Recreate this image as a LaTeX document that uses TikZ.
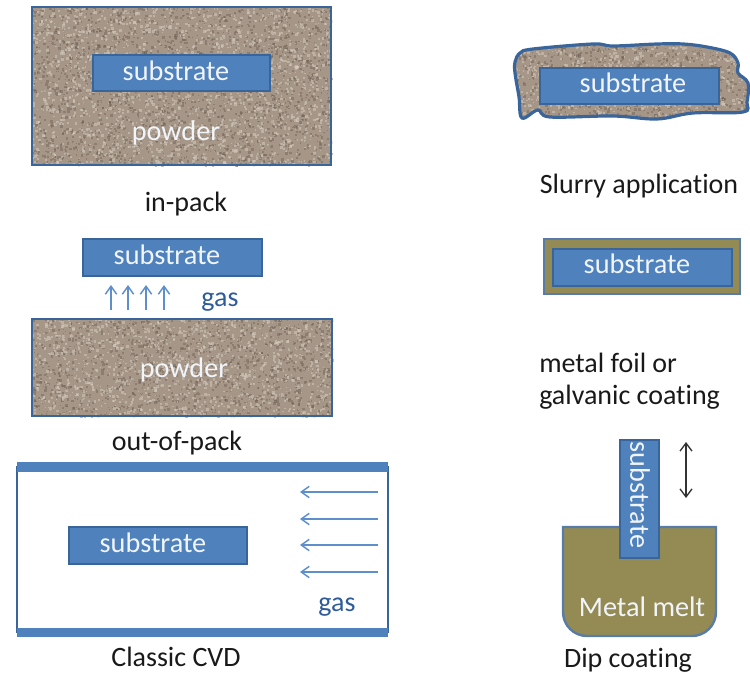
\documentclass[tikz,border=0pt]{standalone}
\usepackage{fontspec}
\setmainfont[Ligatures=NoCommon]{Carlito}
\usetikzlibrary{arrows.meta}
\definecolor{subfill}{HTML}{4F81BD}
\definecolor{subline}{HTML}{3A659B}
\definecolor{meltfill}{HTML}{948A54}
\definecolor{gastext}{HTML}{2F5C98}
\definecolor{gasline}{HTML}{5F8FCB}
\definecolor{powderbase}{HTML}{A59688}
\definecolor{powderdark}{HTML}{6A5C50}
\definecolor{powderlight}{HTML}{D6CCC0}
\tikzset{
	subbox/.style={draw=subline, line width=1.8pt, fill=subfill},
	whitetxt/.style={text=white!92!subfill, font=\fontsize{21.2}{25}\selectfont, inner sep=0pt},
	captxt/.style={text=black!90, font=\fontsize{21}{25}\selectfont, inner sep=0pt},
	gastxt/.style={text=gastext, font=\fontsize{21}{25}\selectfont, inner sep=0pt},
	gasarrow/.style={draw=gasline, line width=1.1pt, -{Straight Barb[length=6pt,width=8.5pt]}},
	powderedge/.style={draw=subline, line width=2.2pt},
}
% speckled powder between two corners, #5 specks of each colour
\def\powderspecks(#1,#2)(#3,#4)(#5){
	\foreach \k in {1,...,#5}{
		\pgfmathsetmacro\px{#1+rnd*(#3-#1)}
		\pgfmathsetmacro\py{#2+rnd*(#4-#2)}
		\pgfmathsetmacro\pr{1+rnd*1.8}
		\fill (\px,\py) rectangle ++(\pr,\pr);
	}
}
\def\powderfill(#1,#2)(#3,#4)(#5){
	\fill[powderbase] (#1,#2) rectangle (#3,#4);
	\begin{scope}[fill=powderdark, fill opacity=0.42]
		\powderspecks(#1,#2)(#3,#4)(#5)
	\end{scope}
	\begin{scope}[fill=powderlight, fill opacity=0.52]
		\powderspecks(#1,#2)(#3,#4)(#5)
	\end{scope}
}
\begin{document}
\begin{tikzpicture}[x=0.75pt, y=-0.75pt]
		%%%%% START %%%%%
		\useasboundingbox (0, 0) rectangle (750, 681);
		\pgfmathsetseed{4711}
		
		% in-pack
		\powderfill(32, 7)(331, 165)(2000)
		\draw[powderedge] (32, 7) rectangle (331, 165);
		\draw[subbox] (93, 55) rectangle (270, 91);
		\node[whitetxt] (insub) at (176, 70.5) {substrate};
		\node[whitetxt] (inpowder) at (176, 133) {powder};
		\node[captxt] (incap) at (186, 204) {in-pack};
		
		% out-of-pack
		\draw[subbox] (83, 239) rectangle (262, 276);
		\node[whitetxt] (outsub) at (167, 254.5) {substrate};
		\foreach \ax [count=\an] in {111, 128, 146, 164}{
			\coordinate (upa\an) at (\ax, 310);
			\coordinate (upb\an) at (\ax, 285);
			\draw[gasarrow] (upa\an) -- (upb\an);
		}
		\node[gastxt] (outgas) at (220, 302) {gas};
		\powderfill(32, 319)(332, 416)(1250)
		\draw[powderedge] (32, 319) rectangle (332, 416);
		\node[whitetxt] (outpowder) at (184, 370) {powder};
		\node[captxt] (outcap) at (177, 443) {out-of-pack};
		
		% classic CVD
		\draw[draw=subline, line width=1.6pt] (17, 467) rectangle (388, 632);
		\fill[subfill] (17, 462) rectangle (388, 472);
		\fill[subfill] (17, 628) rectangle (388, 637);
		\draw[subbox] (69, 527) rectangle (247, 564);
		\node[whitetxt] (cvdsub) at (153, 542.5) {substrate};
		\foreach \ay [count=\an] in {492, 519, 545, 572}{
			\coordinate (lefta\an) at (378, \ay);
			\coordinate (leftb\an) at (300, \ay);
			\draw[gasarrow] (lefta\an) -- (leftb\an);
		}
		\node[gastxt] (cvdgas) at (337, 607) {gas};
		\node[captxt] (cvdcap) at (176, 657) {Classic CVD};
		
		% slurry
		\begin{scope}
			\clip plot[smooth cycle, tension=0.6] coordinates {(515,62) (520,53) (533,49) (593,44) (613,46) (657,44) (683,44) (707,47) (730,53) (738,63) (738,73) (748,83) (747,102) (743,112) (693,113) (657,119) (613,116) (550,117) (538,110) (522,118) (519,97) (515,73)};
			\powderfill(510, 40)(750, 122)(800)
		\end{scope}
		\draw[draw=subline, line width=2.4pt] plot[smooth cycle, tension=0.6] coordinates {(515,62) (520,53) (533,49) (593,44) (613,46) (657,44) (683,44) (707,47) (730,53) (738,63) (738,73) (748,83) (747,102) (743,112) (693,113) (657,119) (613,116) (550,117) (538,110) (522,118) (519,97) (515,73)};
		\draw[subbox] (540, 68) rectangle (719, 104);
		\node[whitetxt] (slurrysub) at (633, 83) {substrate};
		\node[captxt] (slurrycap) at (639, 186) {Slurry application};
		
		% metal foil
		\draw[draw=subline!85, line width=1.6pt, fill=meltfill] (544, 239) rectangle (740, 294);
		\draw[subbox] (553, 249) rectangle (732, 286);
		\node[whitetxt] (foilsub) at (637, 264) {substrate};
		\node[captxt, anchor=west] (foilcapa) at (539, 363) {metal foil or};
		\node[captxt, anchor=west] (foilcapb) at (539, 397) {galvanic coating};
		
		% dip coating
		\draw[draw=subline!85, line width=1.8pt, fill=meltfill] (563, 527) [rounded corners=18pt] -- (563, 636) -- (716, 636) [sharp corners] -- (716, 527) -- cycle;
		\draw[subbox] (620, 440) rectangle (659, 558);
		\node[whitetxt, rotate=-90] (dipsub) at (640, 495) {substrate};
		\coordinate (dipa) at (686, 442);
		\coordinate (dipb) at (686, 498);
		\draw[draw=black!80, line width=1pt, {Straight Barb[length=6pt,width=9pt]}-{Straight Barb[length=6pt,width=9pt]}] (dipa) -- (dipb);
		\node[whitetxt] (diptxt) at (642, 607) {Metal melt};
		\node[captxt] (dipcap) at (628, 660) {Dip coating};
		
		%%%%% END %%%%%
	\end{tikzpicture}
\end{document}
